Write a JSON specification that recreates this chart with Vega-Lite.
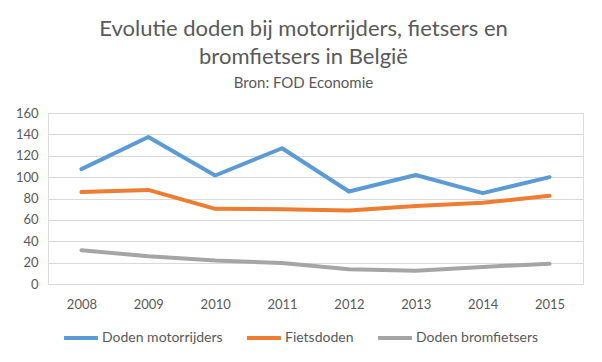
{
  "$schema": "https://vega.github.io/schema/vega-lite/v6.json",
  "autosize": "none",
  "width": 535,
  "height": 171,
  "padding": {"left": 48, "top": 113, "right": 19, "bottom": 78},
  "background": "white",
  "title": {
    "text": ["Evolutie doden bij motorrijders, fietsers en", "bromfietsers in België"],
    "subtitle": "Bron: FOD Economie",
    "anchor": "middle",
    "dx": -12,
    "offset": 15,
    "font": "Lato",
    "fontSize": 22,
    "fontWeight": "normal",
    "color": "#595959",
    "lineHeight": 28,
    "subtitleFont": "Lato",
    "subtitleFontSize": 15,
    "subtitleColor": "#595959",
    "subtitlePadding": 7
  },
  "data": {
    "values": [
      {"jaar": "2008", "reeks": "Doden motorrijders", "doden": 107.5},
      {"jaar": "2009", "reeks": "Doden motorrijders", "doden": 137.5},
      {"jaar": "2010", "reeks": "Doden motorrijders", "doden": 101.5},
      {"jaar": "2011", "reeks": "Doden motorrijders", "doden": 127},
      {"jaar": "2012", "reeks": "Doden motorrijders", "doden": 86.5},
      {"jaar": "2013", "reeks": "Doden motorrijders", "doden": 102},
      {"jaar": "2014", "reeks": "Doden motorrijders", "doden": 85},
      {"jaar": "2015", "reeks": "Doden motorrijders", "doden": 100},
      {"jaar": "2008", "reeks": "Fietsdoden", "doden": 86},
      {"jaar": "2009", "reeks": "Fietsdoden", "doden": 88},
      {"jaar": "2010", "reeks": "Fietsdoden", "doden": 70.3},
      {"jaar": "2011", "reeks": "Fietsdoden", "doden": 70},
      {"jaar": "2012", "reeks": "Fietsdoden", "doden": 68.7},
      {"jaar": "2013", "reeks": "Fietsdoden", "doden": 73},
      {"jaar": "2014", "reeks": "Fietsdoden", "doden": 76},
      {"jaar": "2015", "reeks": "Fietsdoden", "doden": 82.5},
      {"jaar": "2008", "reeks": "Doden bromfietsers", "doden": 31.6},
      {"jaar": "2009", "reeks": "Doden bromfietsers", "doden": 26},
      {"jaar": "2010", "reeks": "Doden bromfietsers", "doden": 22},
      {"jaar": "2011", "reeks": "Doden bromfietsers", "doden": 19.7},
      {"jaar": "2012", "reeks": "Doden bromfietsers", "doden": 13.8},
      {"jaar": "2013", "reeks": "Doden bromfietsers", "doden": 12.5},
      {"jaar": "2014", "reeks": "Doden bromfietsers", "doden": 16},
      {"jaar": "2015", "reeks": "Doden bromfietsers", "doden": 19}
    ]
  },
  "mark": {"type": "line", "strokeWidth": 4, "strokeCap": "round", "strokeJoin": "round"},
  "encoding": {
    "x": {
      "field": "jaar",
      "type": "ordinal",
      "scale": {"type": "point", "padding": 0.5},
      "axis": {
        "title": null,
        "labelAngle": 0,
        "ticks": false,
        "domain": true,
        "domainColor": "#d9d9d9",
        "labelFont": "Lato",
        "labelFontSize": 13,
        "labelColor": "#595959",
        "labelPadding": 14
      }
    },
    "y": {
      "field": "doden",
      "type": "quantitative",
      "scale": {"domain": [0, 160]},
      "axis": {
        "title": null,
        "values": [0, 20, 40, 60, 80, 100, 120, 140, 160],
        "ticks": false,
        "domain": false,
        "grid": true,
        "gridColor": "#d9d9d9",
        "gridWidth": 1,
        "labelFont": "Lato",
        "labelFontSize": 13,
        "labelColor": "#595959",
        "labelPadding": 10
      }
    },
    "color": {
      "field": "reeks",
      "type": "nominal",
      "sort": ["Doden motorrijders", "Fietsdoden", "Doden bromfietsers"],
      "scale": {
        "domain": ["Doden motorrijders", "Fietsdoden", "Doden bromfietsers"],
        "range": ["#5b9bd5", "#ed7d31", "#a5a5a5"]
      },
      "legend": {
        "title": null,
        "orient": "none",
        "direction": "horizontal",
        "legendX": 14,
        "legendY": 206,
        "symbolType": "stroke",
        "symbolStrokeWidth": 4,
        "symbolSize": 1150,
        "labelFont": "Lato",
        "labelFontSize": 14,
        "labelColor": "#595959",
        "columnPadding": 16,
        "labelOffset": 2
      }
    }
  }
}
